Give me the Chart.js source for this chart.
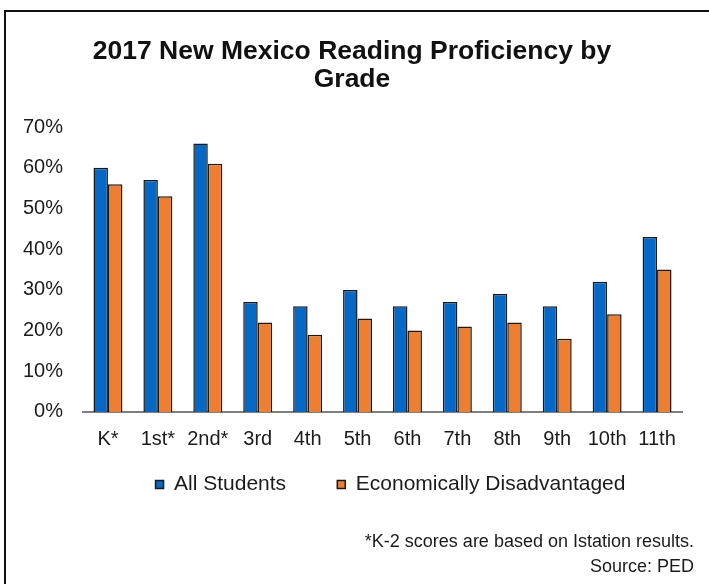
<!DOCTYPE html>
<html>
<head>
<meta charset="utf-8">
<script src="https://cdn.jsdelivr.net/npm/chart.js@4.4.1/dist/chart.umd.min.js"></script>
<style>
    html, body { margin: 0; padding: 0; background: #fff; overflow: hidden; }
    .frame { position: absolute; left: 4px; top: 10px; width: 800px; height: 700px; border-top: 2px solid #111; border-left: 2px solid #111; }
    .wrap { position: absolute; left: 0; top: 0; width: 709px; height: 584px; }
</style>
</head>
<body>
<div class="frame"></div>
<div class="wrap"><canvas id="gradeChart"></canvas></div>
<script>
    "use strict";

    var grades = ["K*", "1st*", "2nd*", "3rd", "4th", "5th", "6th", "7th", "8th", "9th", "10th", "11th"];
    var allStudents = [60, 57, 66, 27, 26, 30, 26, 27, 29, 26, 32, 43];
    var econDisadvantaged = [56, 53, 61, 22, 19, 23, 20, 21, 22, 18, 24, 35];
    var yTicks = [0, 10, 20, 30, 40, 50, 60, 70];
    var footnote = ["*K-2 scores are based on Istation results.", "Source: PED"];

    var fontFamily = "'Liberation Sans', Arial, sans-serif";
    var textColor = "#1b1b1b";

    // nudge the legend row a little right of the plot centre, like the original
    var legendPlacement = {
        id: 'legendPlacement',
        afterLayout: function (chart) {
            var lg = chart.legend;
            if (!lg) return;
            lg.left += 8; lg.right += 8;
        }
    };

    var ctx = document.getElementById("gradeChart").getContext("2d");
    var chart = new Chart(ctx, {
        type: 'bar',
        data: {
            labels: grades,
            datasets: [{
                label: "All Students",
                data: allStudents,
                backgroundColor: "#0468c6",
                borderColor: "#1a1a1a",
                borderWidth: 1.5,
                borderSkipped: 'bottom'
            }, {
                label: "Economically Disadvantaged",
                data: econDisadvantaged,
                backgroundColor: "#ee7f30",
                borderColor: "#1a1a1a",
                borderWidth: 1.5,
                borderSkipped: 'bottom'
            }]
        },
        plugins: [legendPlacement],
        options: {
            responsive: true,
            maintainAspectRatio: false,
            animation: false,
            categoryPercentage: 0.58,
            barPercentage: 1,
            layout: {
                padding: { left: 10, right: 15, top: 0, bottom: 0 }
            },
            plugins: {
                title: {
                    display: true,
                    text: ["2017 New Mexico Reading Proficiency by", "Grade"],
                    color: "#111",
                    font: { family: fontFamily, size: 26.5, weight: 'bold', lineHeight: 1.06 },
                    padding: { top: 38, bottom: 33 }
                },
                subtitle: {
                    display: true,
                    position: 'bottom',
                    align: 'end',
                    text: footnote,
                    color: textColor,
                    font: { family: fontFamily, size: 18, lineHeight: 1.39 },
                    padding: { top: 25, bottom: 4 }
                },
                legend: {
                    display: true,
                    position: 'bottom',
                    fullSize: false,
                    labels: {
                        boxWidth: 8,
                        boxHeight: 8,
                        padding: 22,
                        color: textColor,
                        font: { family: fontFamily, size: 21 },
                        generateLabels: function (chart) {
                            var items = Chart.defaults.plugins.legend.labels.generateLabels(chart);
                            // wider gap between the two entries than the vertical padding
                            items[0].text += "     ";
                            return items;
                        }
                    }
                },
                tooltip: { enabled: false }
            },
            scales: {
                x: {
                    afterFit: function (scale) { scale.height = 40; },
                    grid: { display: false, drawTicks: false },
                    border: { display: true, color: "#7f7f7f", width: 2 },
                    ticks: {
                        color: textColor,
                        padding: 16,
                        font: { family: fontFamily, size: 20 }
                    }
                },
                y: {
                    min: 0,
                    max: 70,
                    afterFit: function (scale) { scale.width = 73; },
                    afterBuildTicks: function (scale) {
                        scale.ticks = yTicks.map(function (v) { return { value: v }; });
                    },
                    grid: { display: false, drawTicks: false },
                    border: { display: false },
                    ticks: {
                        color: textColor,
                        padding: 20,
                        font: { family: fontFamily, size: 20 },
                        callback: function (value) { return value + '%'; }
                    }
                },
                y2: {
                    position: 'right',
                    display: true,
                    afterFit: function (scale) { scale.width = 12; },
                    grid: { display: false, drawTicks: false },
                    border: { display: false },
                    ticks: { display: false }
                }
            }
        }
    });
</script>
</body>
</html>
